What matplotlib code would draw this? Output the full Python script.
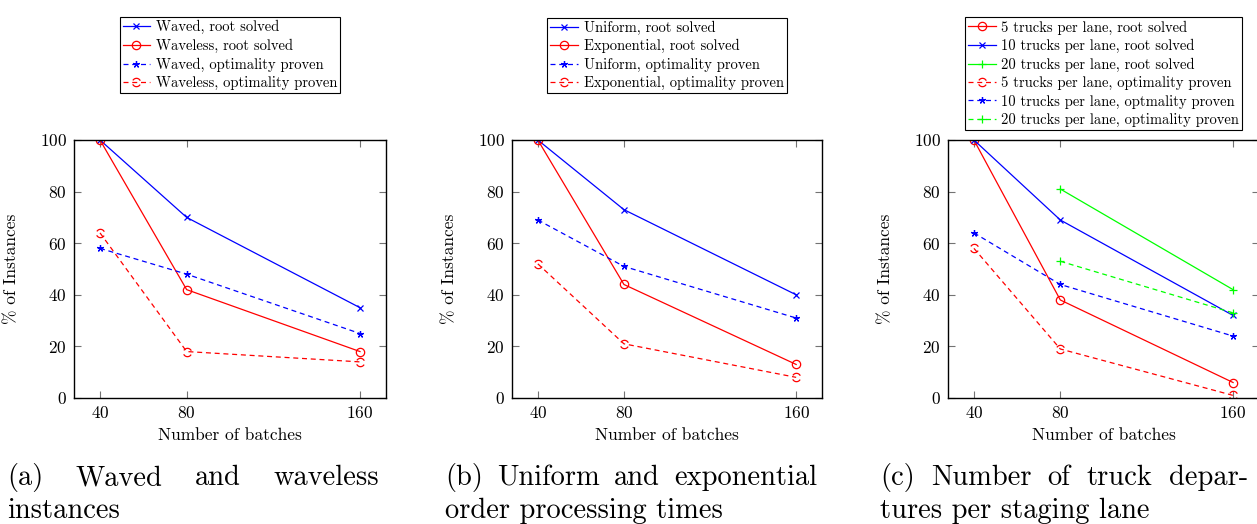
import numpy as np
import matplotlib
matplotlib.use("Agg")
import matplotlib.pyplot as plt
from matplotlib.path import Path

plt.rcParams["font.family"] = "cmr10"
plt.rcParams["mathtext.fontset"] = "cm"
plt.rcParams["axes.formatter.use_mathtext"] = True

W, H = 1257, 524

batches = [40, 80, 160]

# (a) waved / waveless
waved_root = [100, 70, 35]
waveless_root = [100, 42, 18]
waved_opt = [58, 48, 25]
waveless_opt = [64, 18, 14]

# (b) uniform / exponential
uniform_root = [100, 73, 40]
expo_root = [100, 44, 13]
uniform_opt = [69, 51, 31]
expo_opt = [52, 21, 8]

# (c) trucks per lane
t5_root = [100, 38, 6]
t10_root = [100, 69, 32]
t20_root = [np.nan, 81, 42]
t5_opt = [58, 19, 1]
t10_opt = [64, 44, 24]
t20_opt = [np.nan, 53, 33]

x_ticks = [40, 80, 160]
y_ticks = [0, 20, 40, 60, 80, 100]

# caption lines: (first line justified, second line)
captions = [
    ("(a) Waved and waveless", "instances"),
    ("(b) Uniform and exponential", "order processing times"),
    ("(c) Number of truck depar-", "tures per staging lane"),
]


def dashed_circle():
    # circle marker broken up like a dashed pgfplots mark
    verts, codes = [], []
    for a0, a1 in [(25, 150), (205, 330)]:
        t = np.radians(np.linspace(a0, a1, 14))
        pts = np.column_stack([np.cos(t), np.sin(t)])
        verts.extend(pts)
        codes.extend([Path.MOVETO] + [Path.LINETO] * (len(pts) - 1))
    return Path(verts, codes)


DCIRC = dashed_circle()
LW = 0.9
DASH = (4, 3)


def px_axes(x0, y0, x1, y1):
    return [x0 / W, 1 - y1 / H, (x1 - x0) / W, (y1 - y0) / H]


def root_line(ax, y, color, marker, label, ms):
    ax.plot(batches, y, color=color, lw=LW, marker=marker, ms=ms,
            mfc="none", mec=color, mew=LW, label=label)


def opt_line(ax, y, color, marker, label, ms):
    ax.plot(batches, y, color=color, lw=LW, ls="--", dashes=DASH,
            marker=marker, ms=ms, mfc="none", mec=color, mew=LW, label=label)


def style(ax, leg_y):
    ax.set_xlim(28, 172)
    ax.set_ylim(0, 100)
    ax.set_xticks(x_ticks)
    ax.set_yticks(y_ticks)
    ax.tick_params(direction="in", length=5, width=0.8, color="0.45",
                   top=True, right=True, labelsize=12.5, pad=5)
    for s in ax.spines.values():
        s.set_linewidth(1.0)
    ax.set_xlabel("Number of batches", fontsize=12.5)
    ax.set_ylabel("% of Instances", fontsize=12.5)
    ax.xaxis.set_label_coords(0.5, -0.115)
    ax.yaxis.set_label_coords(-0.177, 0.5)
    leg = ax.legend(loc="lower center", bbox_to_anchor=(0.5, leg_y),
                    fontsize=10.5, frameon=True, fancybox=False, framealpha=1,
                    edgecolor="black", handlelength=1.9, handletextpad=0.4,
                    labelspacing=0.3, borderpad=0.2, borderaxespad=0)
    leg.get_frame().set_linewidth(0.8)


fig = plt.figure(figsize=(W / 100, H / 100), dpi=100)

ax_a = fig.add_axes(px_axes(74, 140, 386, 398))
root_line(ax_a, waved_root, "blue", "x", "Waved, root solved", 4.5)
root_line(ax_a, waveless_root, "red", "o", "Waveless, root solved", 6)
opt_line(ax_a, waved_opt, "blue", (5, 2, 0), "Waved, optimality proven", 5)
opt_line(ax_a, waveless_opt, "red", DCIRC, "Waveless, optimality proven", 6)
style(ax_a, 1.182)

ax_b = fig.add_axes(px_axes(512, 140, 822, 398))
root_line(ax_b, uniform_root, "blue", "x", "Uniform, root solved", 4.5)
root_line(ax_b, expo_root, "red", "o", "Exponential, root solved", 6)
opt_line(ax_b, uniform_opt, "blue", (5, 2, 0), "Uniform, optimality proven", 5)
opt_line(ax_b, expo_opt, "red", DCIRC, "Exponential, optimality proven", 6)
style(ax_b, 1.182)

ax_c = fig.add_axes(px_axes(948, 140, 1259, 398))
root_line(ax_c, t5_root, "red", "o", "5 trucks per lane, root solved", 6)
root_line(ax_c, t10_root, "blue", "x", "10 trucks per lane, root solved", 4.5)
root_line(ax_c, t20_root, "lime", "+", "20 trucks per lane, root solved", 6)
opt_line(ax_c, t5_opt, "red", DCIRC, "5 trucks per lane, optimality proven", 6)
opt_line(ax_c, t10_opt, "blue", (5, 2, 0), "10 trucks per lane, optmality proven", 5)
opt_line(ax_c, t20_opt, "lime", "+", "20 trucks per lane, optimality proven", 6)
style(ax_c, 1.039)

# sub-captions: first line justified between the margins, like LaTeX
CAP = 20.5
line1 = 1 - 485 / H
line2 = 1 - 518 / H
margins = [(7, 379), (445, 817), (880, 1248)]
renderer = fig.canvas.get_renderer()
for (first, second), (left, right) in zip(captions, margins):
    words = [fig.text(0, line1, w, fontsize=CAP, va="baseline")
             for w in first.split()]
    widths = [t.get_window_extent(renderer).width for t in words]
    gap = (right - left - sum(widths)) / (len(words) - 1)
    x = left
    for t, w in zip(words, widths):
        t.set_x(x / W)
        x += w + gap
    fig.text(left / W, line2, second, fontsize=CAP, va="baseline")

fig.savefig("out.png", dpi=100)
